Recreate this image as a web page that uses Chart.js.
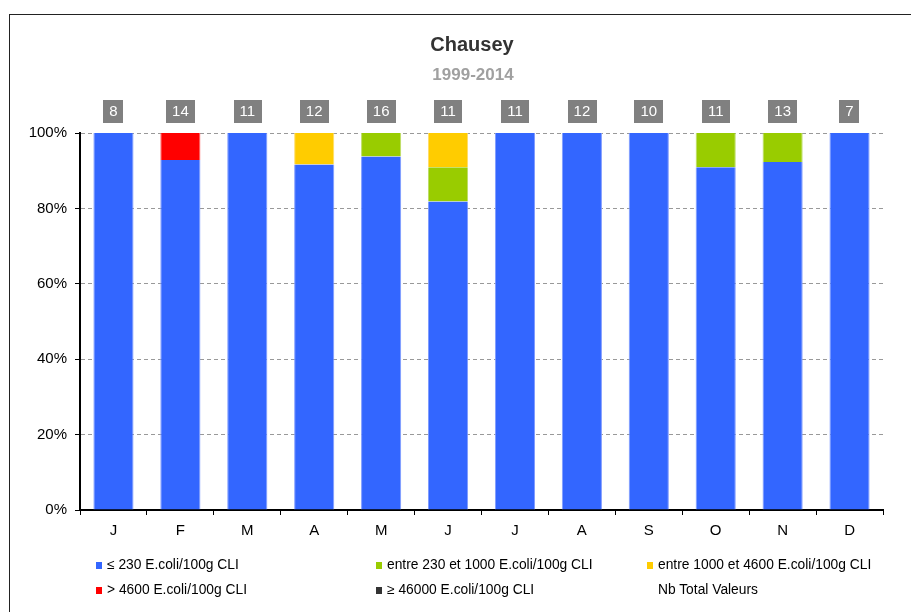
<!DOCTYPE html>
<html>
<head>
<meta charset="utf-8">
<script src="https://cdn.jsdelivr.net/npm/chart.js@4/dist/chart.umd.min.js"></script>
<style>
  html, body { margin: 0; padding: 0; background: #fff; }
  #wrap { position: relative; width: 911px; height: 612px; overflow: hidden; font-family: "Liberation Sans", Arial, sans-serif; }
  #frame { position: absolute; left: 9px; top: 14px; width: 960px; height: 700px; border: 1px solid #222; box-sizing: border-box; pointer-events: none; }
  canvas { position: absolute; left: 0; top: 0; }
  .lg { position: absolute; font-size: 13.8px; color: #000; white-space: nowrap; line-height: 14px; }
  .lg i { display: inline-block; width: 6px; height: 7px; margin-right: 5px; vertical-align: 0px; }
</style>
</head>
<body>
<div id="wrap">
  <canvas id="c" width="911" height="612"></canvas>
  <div id="frame"></div>
  <div id="legend"></div>
</div>
<script>
// Months
const months = ['J', 'F', 'M', 'A', 'M', 'J', 'J', 'A', 'S', 'O', 'N', 'D'];

// Number of results per class and month
const le230      = [8, 13, 11, 11, 15, 9, 11, 12, 10, 10, 12, 7];
const c230_1000  = [0, 0, 0, 0, 1, 1, 0, 0, 0, 1, 1, 0];
const c1000_4600 = [0, 0, 0, 1, 0, 1, 0, 0, 0, 0, 0, 0];
const gt4600     = [0, 1, 0, 0, 0, 0, 0, 0, 0, 0, 0, 0];
const ge46000    = [0, 0, 0, 0, 0, 0, 0, 0, 0, 0, 0, 0];

// Total number of values per month
const totals = [8, 14, 11, 12, 16, 11, 11, 12, 10, 11, 13, 7];

const yTicks = [0, 20, 40, 60, 80, 100];

const toPct = arr => arr.map((v, i) => v / totals[i] * 100);

const classes = [
  { label: '≤ 230 E.coli/100g CLI',              counts: le230,      color: '#3366FF', edge: '#7F9BFF' },
  { label: 'entre 230 et 1000 E.coli/100g CLI',  counts: c230_1000,  color: '#99CC00', edge: '#BCDD66' },
  { label: 'entre 1000 et 4600 E.coli/100g CLI', counts: c1000_4600, color: '#FFCC00', edge: '#FFDD66' },
  { label: '> 4600 E.coli/100g CLI',             counts: gt4600,     color: '#FF0000', edge: '#FF6666' },
  { label: '≥ 46000 E.coli/100g CLI',            counts: ge46000,    color: '#333333', edge: '#777777' }
];

const FONT = '"Liberation Sans", Arial, sans-serif';

// Title, subtitle and the grey count boxes above the bars
const overlay = {
  id: 'overlay',
  afterDatasetsDraw(chart) {
    const ctx = chart.ctx;
    const x = chart.scales.x;
    ctx.save();
    ctx.textAlign = 'center';
    ctx.textBaseline = 'middle';
    ctx.fillStyle = '#333333';
    ctx.font = 'bold 20px ' + FONT;
    ctx.fillText('Chausey', 472, 45);
    ctx.fillStyle = '#A0A0A0';
    ctx.font = 'bold 17px ' + FONT;
    ctx.fillText('1999-2014', 473, 75);

    ctx.font = '15px ' + FONT;
    totals.forEach((t, i) => {
      const cx = x.getPixelForValue(i);
      const txt = String(t);
      const w = ctx.measureText(txt).width + 12;
      ctx.fillStyle = '#808080';
      ctx.fillRect(Math.round(cx - w / 2), 100, Math.round(w), 23);
      ctx.fillStyle = '#FFFFFF';
      ctx.fillText(txt, cx, 112);
    });
    ctx.restore();
  }
};

new Chart(document.getElementById('c'), {
  type: 'bar',
  data: {
    labels: months,
    datasets: classes.map(c => ({
      label: c.label,
      data: toPct(c.counts),
      backgroundColor: c.color,
      borderColor: c.edge,
      borderWidth: { left: 1, right: 1, top: 0, bottom: 0 },
      borderSkipped: false,
      barPercentage: 0.6,
      categoryPercentage: 1.0
    }))
  },
  options: {
    responsive: false,
    animation: false,
    events: [],
    layout: { padding: { left: 0, right: 28, top: 133, bottom: 72 } },
    plugins: {
      legend: { display: false },
      title: { display: false },
      tooltip: { enabled: false }
    },
    scales: {
      x: {
        stacked: true,
        afterFit(s) { s.height = 30; },
        grid: {
          offset: true,
          drawOnChartArea: false,
          drawTicks: true,
          tickLength: 5,
          color: '#000'
        },
        border: { display: true, color: '#000', width: 2 },
        ticks: { color: '#000', font: { family: FONT, size: 15 }, padding: 7 }
      },
      y: {
        stacked: true,
        min: 0,
        max: 100,
        afterFit(s) { s.width = 80; },
        afterBuildTicks(s) { s.ticks = yTicks.map(v => ({ value: v })); },
        grid: {
          color: '#999999',
          tickColor: '#000',
          tickLength: 5,
          lineWidth: 1
        },
        // dash applies to the horizontal grid lines
        border: { display: true, color: '#000', width: 2, dash: [4, 3] },
        ticks: {
          color: '#000',
          font: { family: FONT, size: 15 },
          padding: 8,
          callback: v => v + '%'
        }
      }
    }
  },
  plugins: [overlay]
});

// Legend: two rows of three entries
const legendItems = classes.map(c => ({ label: c.label, color: c.color }))
  .concat([{ label: 'Nb Total Valeurs', color: null }]);
const cols = [96, 376, 647];
const rows = [558, 583];
const lg = document.getElementById('legend');
legendItems.forEach((it, i) => {
  const d = document.createElement('div');
  d.className = 'lg';
  d.style.left = cols[i % 3] + 'px';
  d.style.top = rows[Math.floor(i / 3)] + 'px';
  const sw = document.createElement('i');
  if (it.color) sw.style.background = it.color;
  d.appendChild(sw);
  d.appendChild(document.createTextNode(it.label));
  lg.appendChild(d);
});
</script>
</body>
</html>
